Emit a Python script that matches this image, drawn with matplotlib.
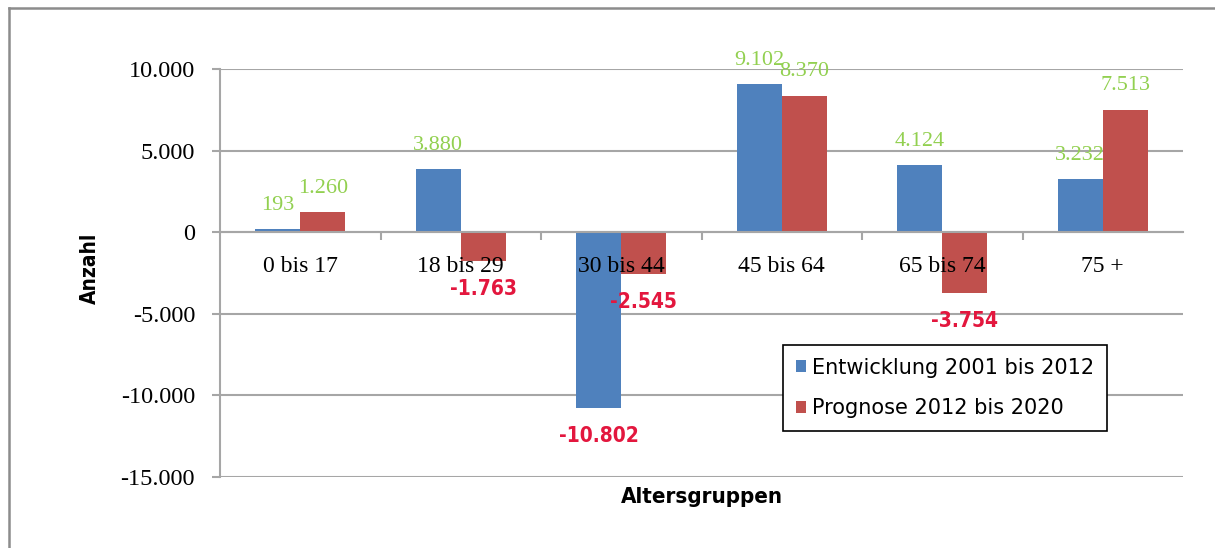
import matplotlib.pyplot as plt
import numpy as np
from matplotlib.ticker import FuncFormatter, FixedLocator
from matplotlib.lines import Line2D

# Daten
altersgruppen = ['0 bis 17', '18 bis 29', '30 bis 44', '45 bis 64', '65 bis 74', '75 +']
entwicklung = [193, 3880, -10802, 9102, 4124, 3232]
prognose = [1260, -1763, -2545, 8370, -3754, 7513]

blau = '#4F81BD'
rot = '#C0504D'
gruen_label = '#92D050'
rot_label = '#E3173E'
schmal = dict(fontweight='bold', family='DejaVu Sans', fontstretch='condensed')


def de_format(v, pos=None):
    return f"{v:,.0f}".replace(',', '.')


fig = plt.figure(figsize=(12.15, 5.48), dpi=100)
ax = fig.add_axes([220 / 1215, 1 - 477 / 548, 963 / 1215, 408 / 548])

x = np.arange(len(altersgruppen))
breite = 0.28
b1 = ax.bar(x - breite / 2, entwicklung, breite, color=blau, label='Entwicklung 2001 bis 2012', zorder=2)
b2 = ax.bar(x + breite / 2, prognose, breite, color=rot, label='Prognose 2012 bis 2020', zorder=2)

# Datenbeschriftungen
for bars, werte in ((b1, entwicklung), (b2, prognose)):
    for bar, w in zip(bars, werte):
        xc = bar.get_x() + bar.get_width() / 2
        if w >= 0:
            ax.annotate(de_format(w), (xc, w), xytext=(0, 17), textcoords='offset points',
                        ha='center', va='center', color=gruen_label, fontsize=16,
                        family='Liberation Serif', zorder=5)
        else:
            ax.annotate(de_format(w), (xc, w), xytext=(0, -20), textcoords='offset points',
                        ha='center', va='center', color=rot_label, fontsize=15, zorder=5, **schmal)

# Achsen
ax.set_xlim(-0.5, len(altersgruppen) - 0.5)
ax.set_ylim(-15000, 10000)
ax.set_yticks(np.arange(-15000, 10001, 5000))
ax.yaxis.set_major_formatter(FuncFormatter(de_format))
for yt in ax.get_yticks():
    ax.axhline(yt, color='#A6A6A6', linewidth=1.5, zorder=1)
ax.set_axisbelow(False)

ax.spines['top'].set_visible(False)
ax.spines['right'].set_visible(False)
ax.spines['left'].set_color('#A6A6A6')
ax.spines['left'].set_linewidth(1.5)
ax.spines['bottom'].set_position(('data', 0))
ax.spines['bottom'].set_color('#A6A6A6')
ax.spines['bottom'].set_linewidth(1.5)
ax.spines['bottom'].set_zorder(4)

ax.set_xticks(x)
ax.set_xticklabels(altersgruppen)
ax.xaxis.set_minor_locator(FixedLocator(np.arange(0.5, len(altersgruppen) - 0.5, 1)))
ax.tick_params(axis='x', which='major', length=0, pad=17, labelsize=17)
ax.tick_params(axis='x', which='minor', length=6, width=1.5, color='#A6A6A6', direction='out')
ax.tick_params(axis='y', length=6, width=1.5, color='#A6A6A6', pad=12, labelsize=17.5)
for lab in ax.get_xticklabels() + ax.get_yticklabels():
    lab.set_family('Liberation Serif')

# Achsentitel
fig.text(90 / 1215, 1 - 268 / 548, 'Anzahl', rotation=90, ha='center', va='center',
         fontsize=15, **schmal)
fig.text(702 / 1215, 1 - 497 / 548, 'Altersgruppen', ha='center', va='center',
         fontsize=16, **schmal)

# Legende
leg = fig.legend(handles=[b1, b2], loc='upper left', bbox_to_anchor=(783 / 1215, 1 - 345 / 548),
                 frameon=True, fancybox=False, edgecolor='black', framealpha=1,
                 fontsize=15, handlelength=0.5, handleheight=0.5, handletextpad=0.3,
                 labelspacing=1.0, borderpad=0.6, borderaxespad=0)
leg.get_frame().set_linewidth(1.2)

# Rahmen des Diagramms
fig.add_artist(Line2D([9 / 1215, 1], [1 - 8 / 548, 1 - 8 / 548], color='#8C8C8C', linewidth=1.8))
fig.add_artist(Line2D([9 / 1215, 9 / 1215], [0, 1 - 8 / 548], color='#8C8C8C', linewidth=1.8))

fig.savefig('out.png', dpi=100)
